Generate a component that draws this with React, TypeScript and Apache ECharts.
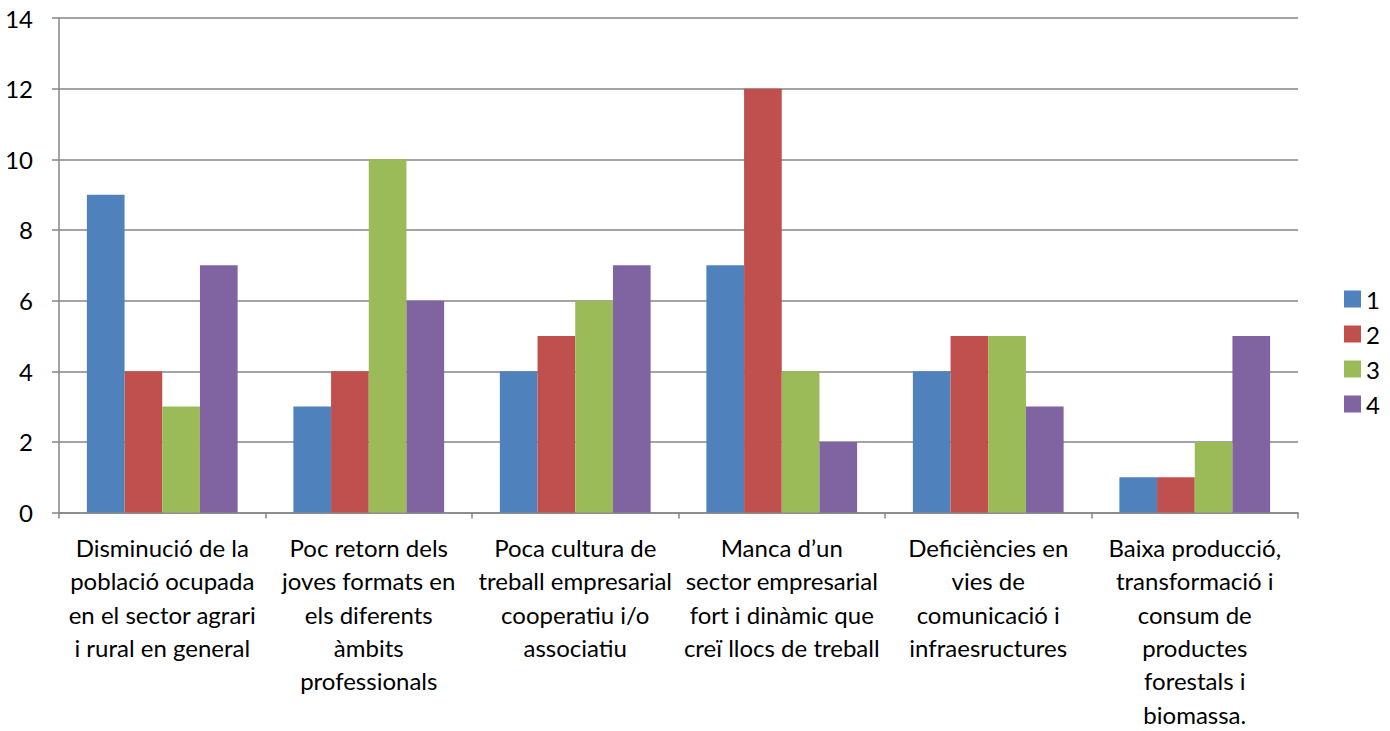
import React, { useEffect, useRef } from "react";
import * as echarts from "echarts";

const categories = [
  "Disminució de la\npoblació ocupada\nen el sector agrari\ni rural en general",
  "Poc retorn dels\njoves formats en\nels diferents\nàmbits\nprofessionals",
  "Poca cultura de\ntreball empresarial\ncooperatiu i/o\nassociatiu",
  "Manca d’un\nsector empresarial\nfort i dinàmic que\ncreï llocs de treball",
  "Deficiències en\nvies de\ncomunicació i\ninfraesructures",
  "Baixa producció,\ntransformació i\nconsum de\nproductes\nforestals i\nbiomassa.",
];
const seriesNames = ["1", "2", "3", "4"];
const series1 = [9, 3, 4, 7, 4, 1];
const series2 = [4, 4, 5, 12, 5, 1];
const series3 = [3, 10, 6, 4, 5, 2];
const series4 = [7, 6, 7, 2, 3, 5];
const colors = ["#4F81BD", "#C0504D", "#9BBB59", "#8064A2"];

export default function App() {
  const ref = useRef<HTMLDivElement>(null);
  useEffect(() => {
    if (!ref.current) return;
    const chart = echarts.init(ref.current, null, { renderer: "svg" });
    const font = "Lato, 'Open Sans', sans-serif";
    const data = [series1, series2, series3, series4];
    chart.setOption({
      animation: false,
      textStyle: { fontFamily: font },
      grid: { left: 59, right: 92, top: 18, bottom: 210 },
      legend: {
        orient: "vertical",
        left: 1339,
        top: 282,
        itemWidth: 17,
        itemHeight: 17,
        itemGap: 11,
        icon: "rect",
        textStyle: { fontSize: 24, color: "#000", fontFamily: font },
        data: seriesNames,
      },
      xAxis: {
        type: "category",
        data: categories,
        axisLine: { lineStyle: { color: "#868686", width: 1.5 } },
        axisTick: { show: true, length: 6, lineStyle: { color: "#868686", width: 1.5 } },
        axisLabel: {
          interval: 0,
          fontSize: 24,
          lineHeight: 33.4,
          color: "#000",
          margin: 18,
          fontFamily: font,
        },
      },
      yAxis: {
        type: "value",
        min: 0,
        max: 14,
        interval: 2,
        axisLine: { show: true, lineStyle: { color: "#868686", width: 1.5 } },
        axisTick: { show: true, length: 7, lineStyle: { color: "#868686", width: 1.5 } },
        splitLine: { lineStyle: { color: "#868686", width: 1.5 } },
        axisLabel: { fontSize: 24, color: "#000", margin: 26, fontFamily: font },
      },
      series: seriesNames.map((n, i) => ({
        name: n,
        type: "bar",
        data: data[i],
        barGap: "0%",
        barCategoryGap: "27%",
        itemStyle: { color: colors[i] },
      })),
    });
    return () => chart.dispose();
  }, []);
  return (
    <div
      ref={ref}
      style={{ position: "fixed", left: 0, top: 0, width: 1390, height: 731, background: "#fff" }}
    />
  );
}
